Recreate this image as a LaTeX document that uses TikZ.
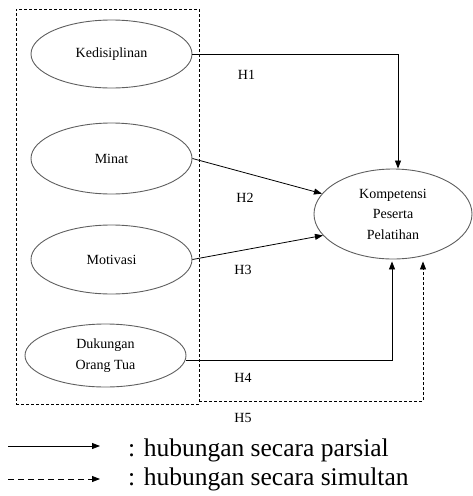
\documentclass[tikz,border=0pt]{standalone}
\usepackage{fontspec}
\setmainfont{Liberation Serif}
\usetikzlibrary{arrows.meta,shapes.geometric}
\definecolor{ellgray}{RGB}{95,95,95}
\begin{document}
\begin{tikzpicture}[x=1pt,y=1pt,
  varell/.style={ellipse,draw=ellgray,line width=0.9pt,inner sep=0pt,align=center,
    font=\fontsize{14}{20.5}\selectfont},
  lbl/.style={font=\fontsize{14}{17}\selectfont,inner sep=0pt},
  arr/.style={-{Triangle[length=8pt,width=6pt]},line width=0.8pt,black},
  dsharr/.style={-{Triangle[length=8pt,width=6pt]},line width=0.8pt,black,dash pattern=on 3pt off 2pt},
  boxst/.style={draw,line width=0.8pt,dash pattern=on 3pt off 2pt,inner sep=0pt},
  legtxt/.style={font=\fontsize{25.5}{28}\selectfont,anchor=west,inner sep=0pt}]
\useasboundingbox (0,0) rectangle (473,-496);
% dashed grouping box
\node[boxst,minimum width=183pt,minimum height=395pt] (box) at (107.5,-206.5) {};
% variables
\node[varell,minimum width=161pt,minimum height=68pt] (ked) at (111.5,-54) {Kedisiplinan};
\node[varell,minimum width=161pt,minimum height=71pt] (min) at (111.5,-158.5) {Minat};
\node[varell,minimum width=161pt,minimum height=69pt] (mot) at (111.5,-259.5) {Motivasi};
\node[varell,minimum width=161pt,minimum height=63pt] (duk) at (105.5,-355.5) {Dukungan\\Orang Tua};
\node[varell,minimum width=158pt,minimum height=90pt] (komp) at (393,-214) {Kompetensi\\Peserta\\Pelatihan};
% connectors
\draw[arr] (ked.east) -| ([xshift=5pt]komp.north);
\draw[arr] (min.east) -- (komp.164);
\draw[arr] (mot.east) -- (komp.197);
\draw[arr,shorten >=2pt] ([yshift=-5pt]duk.east) -| ([xshift=-1pt]komp.south);
\draw[dsharr,shorten >=2pt] ([yshift=3pt]box.south east) -| ([xshift=30pt]komp.south);
% labels
\node[lbl] (h1) at (246.5,-75) {H1};
\node[lbl] (h2) at (245,-198) {H2};
\node[lbl] (h3) at (243,-270) {H3};
\node[lbl] (h4) at (243,-378) {H4};
\node[lbl] (h5) at (243,-418) {H5};
% legend
\coordinate (la1) at (8,-446);
\coordinate (lb1) at (100,-446);
\coordinate (la2) at (8,-479);
\coordinate (lb2) at (100,-479);
\draw[arr] (la1) -- (lb1);
\draw[arr,dash pattern=on 6pt off 4pt] (la2) -- (lb2);
\node[legtxt] (t1) at (128,-450) {: hubungan secara parsial};
\node[legtxt] (t2) at (128,-479) {: hubungan secara simultan};
\end{tikzpicture}
\end{document}
